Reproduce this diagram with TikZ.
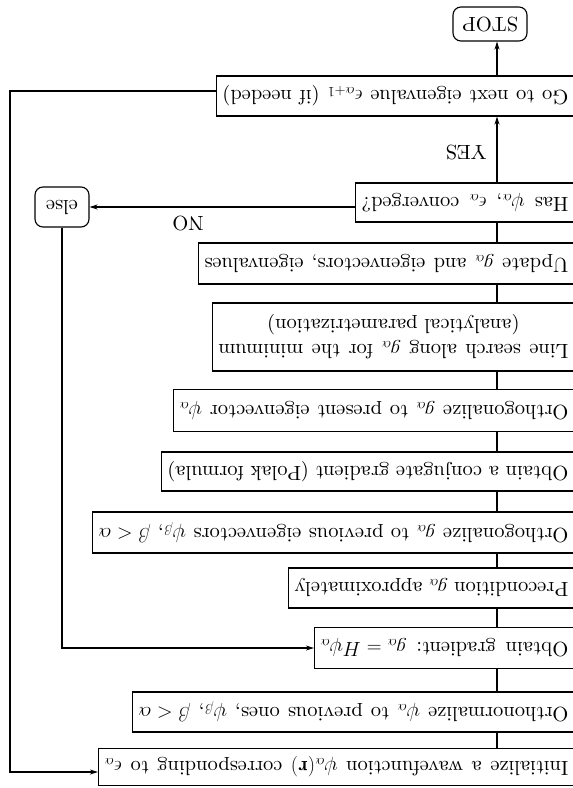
\documentclass[tikz,border=0pt]{standalone}
\usepackage{fix-cm}
\usepackage{fontspec}
\setmainfont{lmroman10-regular.otf}[BoldFont=lmroman10-bold.otf, ItalicFont=lmroman10-italic.otf]
\usetikzlibrary{arrows.meta}
\newcommand\boxfont{\fontsize{20.5}{27}\selectfont}
\newcommand\fillto[2]{{\frenchspacing\spaceskip=\fontdimen2\font plus 1fil minus 0.15em\relax\xspaceskip=\spaceskip\makebox[#1][s]{#2}}}
\newcommand\fillline[1]{\fillto{\linewidth}{#1}}
\begin{document}
\begin{tikzpicture}[x=1pt,y=-1pt,
  box/.style={draw, rotate=180, anchor=west, line width=1.1pt, inner xsep=6pt, inner ysep=0pt, align=left, font=\boxfont},
  rbox/.style={draw, rotate=180, rounded corners=8pt, line width=1.1pt, inner sep=0pt, font=\boxfont},
  lbl/.style={rotate=180, inner sep=0pt, font=\boxfont},
  conn/.style={line width=1.1pt},
  arr/.style={conn, -{Stealth[length=8pt,width=5pt]}}]
\useasboundingbox (0,0) rectangle (573,788);
\clip (0,0) rectangle (573,788);
\coordinate (ax) at (497,0);
\coordinate (lp) at (10,0);
% boxes
\node[rbox, minimum width=74pt, minimum height=34pt] (stop) at (490,24) {STOP};
\node[box, text width=346pt, minimum height=40pt] (go) at (575,96) {\fillline{Go to next eigenvalue $\epsilon_{\alpha+1}$ (if needed)}};
\node[box, text width=207pt, minimum height=39pt] (has) at (575,202.5) {\fillline{Has $\psi_\alpha$, $\epsilon_\alpha$ converged?}};
\node[rbox, minimum width=54pt, minimum height=40pt] (else) at (62,207) {else};
\node[box, text width=364pt, minimum height=41pt] (upd) at (575,263.5) {\fillline{Update $g_\alpha$ and eigenvectors, eigenvalues}};
\node[box, text width=350pt, minimum height=68pt] (line) at (575,337) {\begin{tabular}{@{}c@{}}\fillto{350pt}{Line search along $g_\alpha$ for the minimum}\\[-2pt](analytical parametrization)\end{tabular}};
\node[box, text width=389pt, minimum height=42pt] (orp) at (575,410.5) {\fillline{Orthogonalize $g_\alpha$ to present eigenvector $\psi_\alpha$}};
\node[box, text width=401pt, minimum height=39pt] (conj) at (575,471.5) {\fillline{Obtain a conjugate gradient (Polak formula)}};
\node[box, text width=470pt, minimum height=41pt] (orv) at (575,532.5) {\fillline{Orthogonalize $g_\alpha$ to previous eigenvectors $\psi_\beta$, $\beta<\alpha$}};
\node[box, text width=274pt, minimum height=40pt] (pre) at (575,588) {\fillline{Precondition $g_\alpha$ approximately}};
\node[box, text width=248pt, minimum height=41pt] (grad) at (575,648) {\fillline{Obtain gradient: $g_\alpha=H\psi_\alpha$}};
\node[box, text width=430pt, minimum height=40pt] (onz) at (575,712) {\fillline{Orthonormalize $\psi_\alpha$ to previous ones, $\psi_\beta$, $\beta<\alpha$}};
\node[box, text width=464pt, minimum height=37pt] (init) at (575,767) {\fillline{Initialize a wavefunction $\psi_\alpha(\mathbf{r})$ corresponding to $\epsilon_\alpha$}};
% labels
\node[lbl] (yes) at (466,152) {YES};
\node[lbl] (no) at (188,223) {NO};
% connectors
\draw[arr] (go.south -| ax) -- (stop.north -| ax);
\draw[arr] (has.south -| ax) -- (go.north -| ax);
\draw[conn] (upd.south -| ax) -- (has.north -| ax);
\draw[conn] (line.south -| ax) -- (upd.north -| ax);
\draw[conn] (orp.south -| ax) -- (line.north -| ax);
\draw[conn] (conj.south -| ax) -- (orp.north -| ax);
\draw[conn] (orv.south -| ax) -- (conj.north -| ax);
\draw[conn] (pre.south -| ax) -- (orv.north -| ax);
\draw[conn] (grad.south -| ax) -- (pre.north -| ax);
\draw[conn] (onz.south -| ax) -- (grad.north -| ax);
\draw[conn] (init.south -| ax) -- (onz.north -| ax);
\draw[arr] (has.east |- else.west) -- (else.west);
\draw[arr] (else.north) |- (grad.east);
\draw[arr] ([yshift=5pt]go.east) -- ([yshift=5pt]go.east -| lp) |- ([yshift=-5pt]init.east);
\end{tikzpicture}
\end{document}
